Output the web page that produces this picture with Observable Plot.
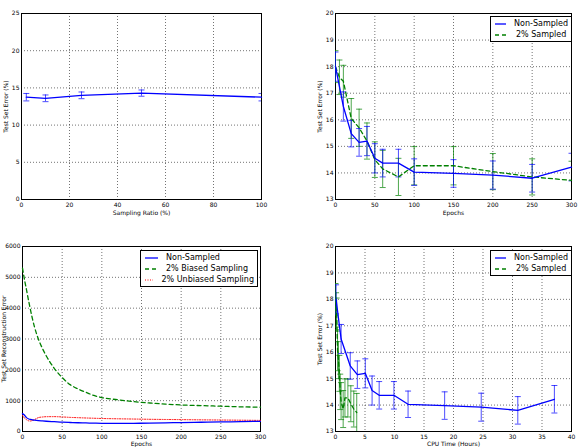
<!DOCTYPE html>
<html>
<head>
<meta charset="utf-8">
<script src="https://cdn.jsdelivr.net/npm/d3@7"></script>
<script src="https://cdn.jsdelivr.net/npm/@observablehq/plot@0.6"></script>
<style>
  html, body { margin: 0; padding: 0; background: #fff; }
  #wrap { position: relative; width: 578px; height: 447px; overflow: hidden; font-family: "DejaVu Sans", sans-serif; }
  .panel { position: absolute; }
  .legend { position: absolute; background: #fff; border: 1px solid #000; font-size: 8px; color: #000; padding: 1px 3px 1px 4px; box-sizing: border-box; }
  .legend .row { display: flex; align-items: center; height: 11px; white-space: nowrap; }
  .legend svg { margin-right: 8px; }
</style>
</head>
<body>
<div id="wrap"></div>
<script>
// ---------- Panel 1: error vs sampling ratio ----------
const ratioX = [2, 10, 25, 50, 100];
const ratioErr = [13.75, 13.6, 14.0, 14.3, 13.75];
const ratioSd = [0.5, 0.45, 0.45, 0.42, 0.5];
const ratioXTicks = [0, 20, 40, 60, 80, 100];
const ratioYTicks = [0, 5, 10, 15, 20, 25];

// ---------- Panel 2: error vs epochs ----------
const epochsNon = [0, 10, 20, 30, 40, 50, 60, 80, 100, 150, 200, 250, 300];
const errNon = [18.0, 16.5, 15.48, 15.15, 15.2, 14.55, 14.37, 14.37, 14.03, 13.98, 13.92, 13.8, 14.22];
const sdNon = [0.55, 0.55, 0.5, 0.52, 0.55, 0.55, 0.52, 0.52, 0.5, 0.52, 0.53, 0.52, 0.52];
const epochsSam = [0, 5, 10, 20, 30, 40, 50, 60, 80, 100, 150, 200, 250, 300];
const errSam = [18.0, 17.6, 17.45, 16.05, 15.7, 15.2, 14.5, 14.15, 13.85, 14.27, 14.27, 14.05, 13.85, 13.72];
const sdSam = [0.6, 0.65, 0.6, 0.75, 0.7, 0.68, 0.67, 0.7, 0.7, 0.72, 0.72, 0.68, 0.68, 0.72];
const epochXTicks = [0, 50, 100, 150, 200, 250, 300];
const errYTicks = [13, 14, 15, 16, 17, 18, 19, 20];

// ---------- Panel 3: reconstruction error vs epochs ----------
const reconEpochs = [0, 2, 5, 8, 10, 15, 20, 25, 30, 40, 50, 60, 70, 80, 90, 100, 120, 140, 160, 180, 200, 225, 250, 275, 300];
const reconNon = [580, 540, 450, 405, 390, 368, 352, 342, 333, 318, 302, 292, 284, 277, 271, 266, 264, 266, 272, 280, 290, 300, 310, 320, 330];
const reconBiased = [5300, 5000, 4600, 4200, 3950, 3400, 3000, 2700, 2450, 2050, 1750, 1520, 1380, 1270, 1170, 1100, 1030, 970, 925, 890, 860, 840, 820, 800, 790];
const reconUnbiased = [520, 450, 385, 345, 342, 385, 450, 470, 480, 482, 472, 458, 448, 438, 430, 422, 412, 404, 396, 390, 385, 378, 372, 366, 360];
const reconYTicks = [0, 1000, 2000, 3000, 4000, 5000, 6000];

// ---------- Panel 4: error vs CPU time ----------
const hoursNon = [0.1, 0.95, 2.5, 3.7, 5.05, 6.2, 7.4, 9.9, 12.3, 18.5, 24.7, 30.9, 37.1];
const hoursSam = [0, 0.1, 0.2, 0.35, 0.5, 0.65, 0.8, 0.95, 1.3, 1.6, 2.1, 2.6, 3.1, 3.6];
const hourXTicks = [0, 5, 10, 15, 20, 25, 30, 35, 40];

const BLUE = "#0000ff", GREEN = "#008000", RED = "#ff0000";
const FONT = "DejaVu Sans";
const fmt = d => String(d);

const cap = { draw(ctx) { ctx.moveTo(-3, 0); ctx.lineTo(3, 0); } };

function rows(xs, ys, es) {
  return xs.map((x, i) => ({ x, y: ys[i], e: es ? es[i] : 0 }));
}

function errMarks(data, color) {
  return [
    Plot.ruleX(data, { x: "x", y1: d => d.y - d.e, y2: d => d.y + d.e, stroke: color, strokeWidth: 1, strokeOpacity: 0.7, clip: true }),
    Plot.dot(data, { x: "x", y: d => d.y + d.e, symbol: cap, stroke: color, fill: "none", strokeWidth: 1, strokeOpacity: 0.7, clip: true }),
    Plot.dot(data, { x: "x", y: d => d.y - d.e, symbol: cap, stroke: color, fill: "none", strokeWidth: 1, strokeOpacity: 0.7, clip: true })
  ];
}

function frameMarks(xTicks, yTicks, xLabel, yLabel, yLabelOffset, xLabelOffset) {
  return [
    Plot.gridX(xTicks, { stroke: "#000", strokeOpacity: 0.55, strokeDasharray: "1,2" }),
    Plot.gridY(yTicks, { stroke: "#000", strokeOpacity: 0.55, strokeDasharray: "1,2" }),
    Plot.axisX({ ticks: xTicks, tickFormat: fmt, tickSize: 0, tickPadding: 3, fontSize: 6, label: xLabel, labelAnchor: "center", labelOffset: xLabelOffset, labelArrow: "none" }),
    Plot.axisY({ ticks: yTicks, tickFormat: fmt, tickSize: 0, tickPadding: 2, fontSize: 6, label: yLabel, labelAnchor: "center", labelOffset: yLabelOffset, labelArrow: "none" }),
    Plot.frame({ stroke: "#000", strokeWidth: 1 })
  ];
}

function panel(opts) {
  return Plot.plot({
    width: opts.width, height: opts.height,
    marginLeft: opts.ml, marginRight: opts.mr, marginTop: opts.mt, marginBottom: opts.mb,
    style: { fontFamily: FONT, fontSize: "6px", color: "#000", background: "transparent", overflow: "visible" },
    x: { domain: opts.xDomain },
    y: { domain: opts.yDomain },
    marks: opts.marks
  });
}

function place(node, left, top) {
  node.classList.add("panel");
  node.style.left = left + "px";
  node.style.top = top + "px";
  document.getElementById("wrap").appendChild(node);
}

// Panel 1
const d1 = rows(ratioX, ratioErr, ratioSd);
place(panel({
  width: 289, height: 224, ml: 21, mr: 28, mt: 13, mb: 25,
  xDomain: [0, 100], yDomain: [0, 25],
  marks: [
    ...frameMarks(ratioXTicks, ratioYTicks, "Sampling Ratio (%)", "Test Set Error (%)", 18, 15),
    ...errMarks(d1, BLUE),
    Plot.line(d1, { x: "x", y: "y", stroke: BLUE, strokeWidth: 1.3 })
  ]
}), 0, 0);

// Panel 2
const d2n = rows(epochsNon, errNon, sdNon);
const d2s = rows(epochsSam, errSam, sdSam);
place(panel({
  width: 289, height: 224, ml: 46, mr: 7, mt: 13, mb: 25,
  xDomain: [0, 300], yDomain: [13, 20],
  marks: [
    ...frameMarks(epochXTicks, errYTicks, "Epochs", "Test Set Error (%)", 18, 15),
    ...errMarks(d2s, GREEN),
    ...errMarks(d2n, BLUE),
    Plot.line(d2s, { x: "x", y: "y", stroke: GREEN, strokeWidth: 1.3, strokeDasharray: "4,3" }),
    Plot.line(d2n, { x: "x", y: "y", stroke: BLUE, strokeWidth: 1.3 })
  ]
}), 289, 0);

// Panel 3
const d3n = rows(reconEpochs, reconNon);
const d3b = rows(reconEpochs, reconBiased);
const d3u = rows(reconEpochs, reconUnbiased);
place(panel({
  width: 289, height: 223, ml: 22, mr: 29, mt: 22, mb: 16,
  xDomain: [0, 300], yDomain: [0, 6000],
  marks: [
    ...frameMarks(epochXTicks, reconYTicks, "Epochs", "Test Set Reconstruction Error", 21, 14),
    Plot.line(d3u, { x: "x", y: "y", stroke: RED, strokeWidth: 1, strokeDasharray: "1,1.5", curve: "monotone-x" }),
    Plot.line(d3b, { x: "x", y: "y", stroke: GREEN, strokeWidth: 1.3, strokeDasharray: "4,3", curve: "monotone-x" }),
    Plot.line(d3n, { x: "x", y: "y", stroke: BLUE, strokeWidth: 1.3, curve: "monotone-x" })
  ]
}), 0, 224);

// Panel 4
const d4n = rows(hoursNon, errNon, sdNon);
const d4s = rows(hoursSam, errSam, sdSam);
place(panel({
  width: 289, height: 223, ml: 46, mr: 7, mt: 22, mb: 16,
  xDomain: [0, 40], yDomain: [13, 20],
  marks: [
    ...frameMarks(hourXTicks, errYTicks, "CPU Time (Hours)", "Test Set Error (%)", 18, 14),
    ...errMarks(d4s, GREEN),
    ...errMarks(d4n, BLUE),
    Plot.line(d4s, { x: "x", y: "y", stroke: GREEN, strokeWidth: 1.3, strokeDasharray: "4,3", clip: true }),
    Plot.line(d4n, { x: "x", y: "y", stroke: BLUE, strokeWidth: 1.3, clip: true })
  ]
}), 289, 224);

// Legends
function swatch(color, dash, width) {
  return `<svg width="13" height="4"><line x1="0" y1="2" x2="13" y2="2" stroke="${color}" stroke-width="${width}" ${dash ? `stroke-dasharray="${dash}"` : ""}/></svg>`;
}
function legend(items, left, top, w) {
  const div = document.createElement("div");
  div.className = "legend";
  div.style.left = left + "px";
  div.style.top = top + "px";
  div.style.width = w + "px";
  div.innerHTML = items.map(it => `<div class="row">${swatch(it.color, it.dash, it.w)}<span>${it.label}</span></div>`).join("");
  document.getElementById("wrap").appendChild(div);
}
const legend2 = [
  { label: "Non-Sampled", color: BLUE, dash: null, w: 1.3 },
  { label: "2% Sampled", color: GREEN, dash: "4,3", w: 1.3 }
];
const legend3 = [
  { label: "Non-Sampled", color: BLUE, dash: null, w: 1.3 },
  { label: "2% Biased Sampling", color: GREEN, dash: "4,3", w: 1.3 },
  { label: "2% Unbiased Sampling", color: RED, dash: "1,1.5", w: 1 }
];
legend(legend2, 490, 16, 82);
legend(legend3, 140, 250, 118);
legend(legend2, 490, 250, 82);
</script>
</body>
</html>
